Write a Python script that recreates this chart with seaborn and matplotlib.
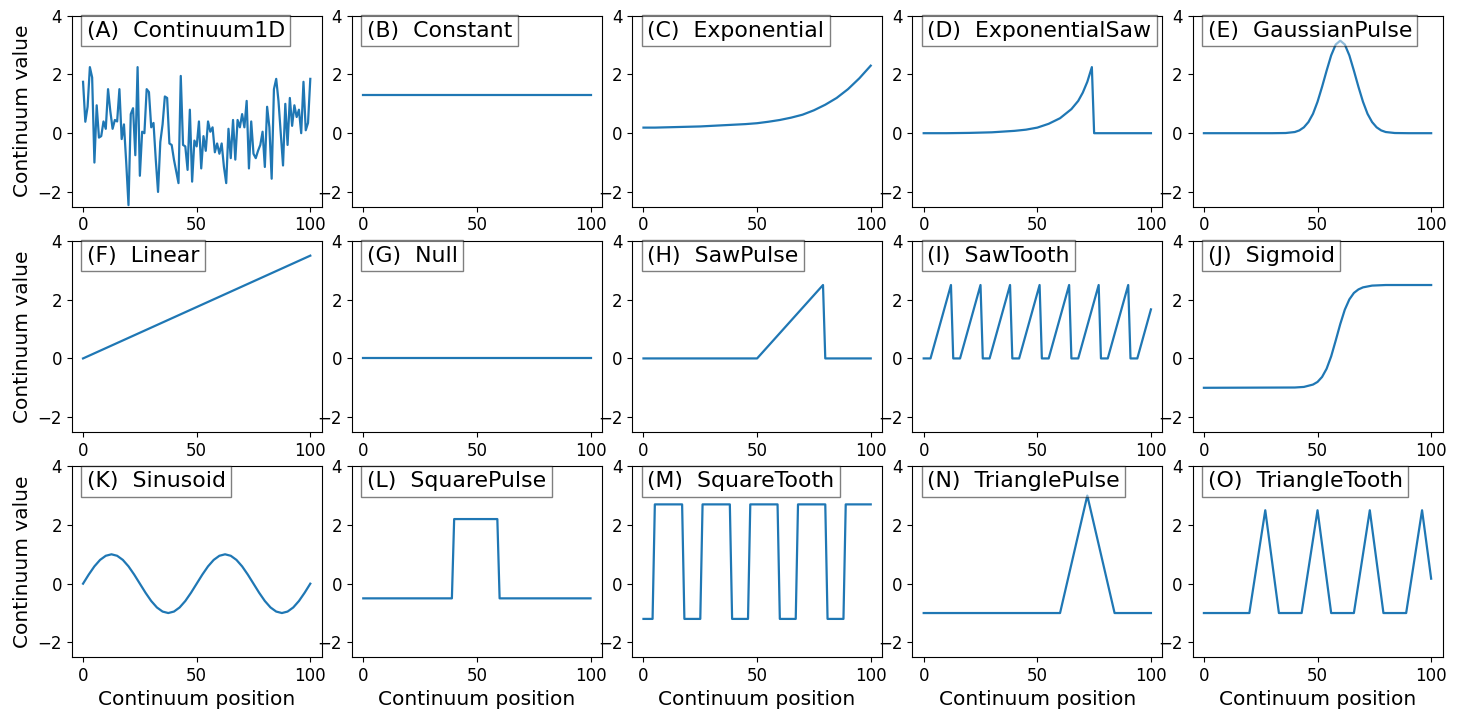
import numpy as np
import matplotlib
matplotlib.use("Agg")
import matplotlib.pyplot as plt
import seaborn as sns

# Panel names
names = ['Continuum1D', 'Constant', 'Exponential', 'ExponentialSaw', 'GaussianPulse',
         'Linear', 'Null', 'SawPulse', 'SawTooth', 'Sigmoid',
         'Sinusoid', 'SquarePulse', 'SquareTooth', 'TrianglePulse', 'TriangleTooth']
letters = ['A', 'B', 'C', 'D', 'E', 'F', 'G', 'H', 'I', 'J', 'K', 'L', 'M', 'N', 'O']

# (A) Continuum1D
cont_x = np.arange(101)
cont_y = [1.75, 0.39, 0.9, 2.25, 1.9, -1.0, 0.95, -0.15, -0.1, 0.4,
          0.15, 1.5, 0.75, 0.15, 0.45, 0.4, 1.5, -0.2, 0.3, -1.0,
          -2.45, 0.65, 0.85, -0.75, 2.25, -1.45, 0.05, 0.0, 1.5, 1.4,
          0.2, 0.35, -0.9, -2.0, -0.3, 0.3, 1.25, 1.2, -0.35, -0.4,
          -0.9, -1.3, -1.7, 1.95, -0.4, -0.45, -1.25, 0.8, -1.65, -0.25,
          -0.45, 0.4, -1.2, -0.1, -0.6, 0.4, 0.05, 0.2, -0.65, -0.35,
          -0.7, -0.35, -1.15, -1.7, 0.15, -0.85, 0.45, -0.9, 0.45, 0.2,
          0.65, 0.2, 1.1, -1.2, 0.4, -0.7, -0.85, -0.6, -0.4, 0.05,
          -1.15, 0.9, 0.2, -1.55, 1.5, 1.85, 1.1, 0.0, -1.1, 1.0,
          -0.4, 1.2, 0.25, 0.95, 0.55, 0.8, 0.0, 1.75, 0.1, 0.35,
          1.85]

# (B) Constant
const_x = [0, 100]
const_y = [1.3, 1.3]

# (C) Exponential
exp_x = [0, 5, 10, 15, 20, 25, 30, 35, 40, 45, 50, 55, 60, 65, 70, 75, 80, 85, 90, 95, 100]
exp_y = [0.19, 0.19, 0.2, 0.21, 0.22, 0.23, 0.25, 0.27, 0.29, 0.31, 0.34,
         0.39, 0.45, 0.53, 0.63, 0.78, 0.97, 1.2, 1.5, 1.87, 2.3]

# (D) ExponentialSaw
esaw_x = [0, 10, 20, 30, 40, 45, 50, 55, 60, 65, 68, 70, 72, 74, 75, 100]
esaw_y = [0, 0, 0.01, 0.03, 0.08, 0.12, 0.19, 0.32, 0.51, 0.82, 1.1, 1.38, 1.75, 2.25, 0, 0]

# (E) GaussianPulse
gauss_x = [0, 30, 36, 40, 42, 44, 46, 48, 50, 52, 54, 56, 58, 60,
           62, 64, 66, 68, 70, 72, 74, 76, 78, 80, 84, 90, 100]
gauss_y = [0, 0, 0.006, 0.04, 0.095, 0.2, 0.38, 0.66, 1.07, 1.58, 2.13, 2.65, 3.02, 3.15,
           3.02, 2.65, 2.13, 1.58, 1.07, 0.66, 0.38, 0.2, 0.095, 0.04, 0.006, 0, 0]

# (F) Linear
lin_x = [0, 100]
lin_y = [0, 3.5]

# (G) Null
null_x = [0, 100]
null_y = [0, 0]

# (H) SawPulse
spulse_x = [0, 50, 79, 80, 100]
spulse_y = [0, 0, 2.5, 0, 0]

# (I) SawTooth
stooth_x = [0, 3, 12, 13, 16, 25, 26, 29, 38, 39, 42, 51, 52, 55, 64, 65, 68, 77, 78, 81, 90, 91, 94, 100]
stooth_y = [0, 0, 2.5, 0, 0, 2.5, 0, 0, 2.5, 0, 0, 2.5, 0, 0, 2.5, 0, 0, 2.5, 0, 0, 2.5, 0, 0, 1.67]

# (J) Sigmoid
sig_x = [0, 40, 44, 48, 50, 52, 54, 56, 58, 60, 62, 64, 66, 68, 70, 74, 80, 100]
sig_y = [-1.0, -0.99, -0.97, -0.89, -0.8, -0.63, -0.35, 0.07, 0.61, 1.17, 1.66,
         2.01, 2.23, 2.35, 2.42, 2.48, 2.5, 2.5]

# (K) Sinusoid
sin_x = np.linspace(0, 100, 41)
sin_y = [0, 0.31, 0.59, 0.81, 0.95, 1.0, 0.95, 0.81, 0.59, 0.31,
         0, -0.31, -0.59, -0.81, -0.95, -1.0, -0.95, -0.81, -0.59, -0.31,
         0, 0.31, 0.59, 0.81, 0.95, 1.0, 0.95, 0.81, 0.59, 0.31,
         0, -0.31, -0.59, -0.81, -0.95, -1.0, -0.95, -0.81, -0.59, -0.31,
         0]

# (L) SquarePulse
sqp_x = [0, 39, 40, 59, 60, 100]
sqp_y = [-0.5, -0.5, 2.2, 2.2, -0.5, -0.5]

# (M) SquareTooth
sqt_x = [0, 4, 5, 17, 18, 25, 26, 38, 39, 46, 47, 59, 60, 67, 68, 80, 81, 88, 89, 100]
sqt_y = [-1.2, -1.2, 2.7, 2.7, -1.2, -1.2, 2.7, 2.7, -1.2, -1.2, 2.7, 2.7,
         -1.2, -1.2, 2.7, 2.7, -1.2, -1.2, 2.7, 2.7]

# (N) TrianglePulse
tp_x = [0, 60, 72, 84, 100]
tp_y = [-1, -1, 3.0, -1, -1]

# (O) TriangleTooth
tt_x = [0, 20, 27, 33, 43, 50, 56, 66, 73, 79, 89, 96, 100]
tt_y = [-1, -1, 2.5, -1, -1, 2.5, -1, -1, 2.5, -1, -1, 2.5, 0.17]

series = [(cont_x, cont_y), (const_x, const_y), (exp_x, exp_y), (esaw_x, esaw_y), (gauss_x, gauss_y),
          (lin_x, lin_y), (null_x, null_y), (spulse_x, spulse_y), (stooth_x, stooth_y), (sig_x, sig_y),
          (sin_x, sin_y), (sqp_x, sqp_y), (sqt_x, sqt_y), (tp_x, tp_y), (tt_x, tt_y)]

fig, axes = plt.subplots(3, 5, figsize=(14.63, 7.15), dpi=100)
plt.subplots_adjust(left=0.049, right=0.986, top=0.978, bottom=0.081, wspace=0.121, hspace=0.18)

for i, ax in enumerate(axes.flat):
    x, y = series[i]
    sns.lineplot(x=x, y=y, ax=ax, color='C0', linewidth=1.6, estimator=None)
    ax.set_ylim(-2.5, 4)
    ax.set_yticks([-2, 0, 2, 4])
    ax.set_xticks([0, 50, 100])
    ax.tick_params(labelsize=12)
    ax.text(0.06, 0.89, f"({letters[i]})  {names[i]}", transform=ax.transAxes,
            fontsize=15.8, bbox=dict(facecolor='w', alpha=0.5))
    if i % 5 == 0:
        ax.set_ylabel("Continuum value", fontsize=14.5)
    if i >= 10:
        ax.set_xlabel("Continuum position", fontsize=14.5)

plt.savefig("out.png", dpi=100)
